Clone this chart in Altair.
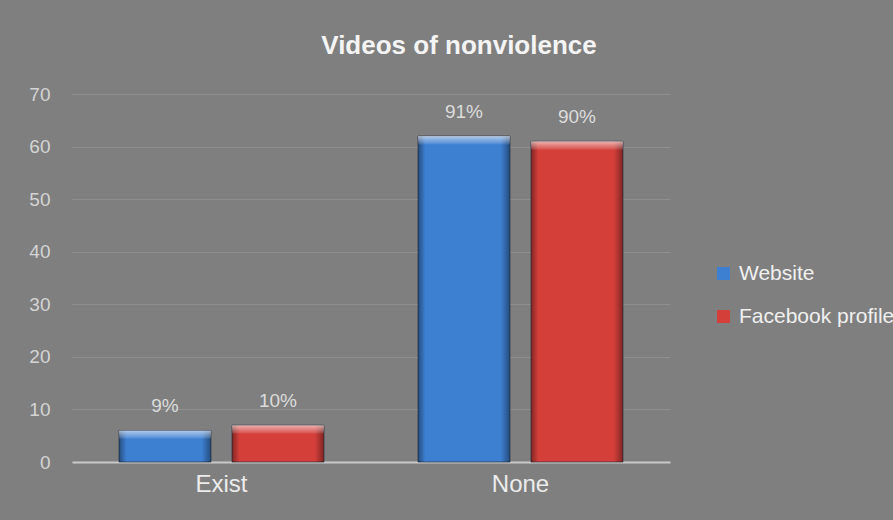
import altair as alt
import pandas as pd

# Categories, series and their values
categories = ["Exist", "None"]
series = ["Website", "Facebook profile"]
website_counts = [6, 62]
facebook_counts = [7, 61]
website_labels = ["9%", "91%"]
facebook_labels = ["10%", "90%"]

rows = []
for cat, v, lab in zip(categories, website_counts, website_labels):
    rows.append({"category": cat, "source": "Website", "count": v, "label": lab})
for cat, v, lab in zip(categories, facebook_counts, facebook_labels):
    rows.append({"category": cat, "source": "Facebook profile", "count": v, "label": lab})
df = pd.DataFrame(rows)

FONT = "Liberation Sans"
BG = "#7f7f7f"

x_enc = alt.X("category:N", sort=categories,
              scale=alt.Scale(paddingInner=0, paddingOuter=0),
              axis=alt.Axis(title=None, labelAngle=0, labelFontSize=24,
                            labelColor="#ececec", labelFont=FONT,
                            ticks=False, labelPadding=10,
                            domainColor="#c9c9c9", domainWidth=2))
xoff_enc = alt.XOffset("source:N", sort=series,
                       scale=alt.Scale(paddingInner=0.186, paddingOuter=0.416))
y_enc = alt.Y("count:Q",
              scale=alt.Scale(domain=[0, 70]),
              axis=alt.Axis(title=None, values=list(range(0, 71, 10)),
                            labelFontSize=19, labelColor="#d4d4d4", labelFont=FONT,
                            labelPadding=22, ticks=False, domain=False,
                            gridColor="#8f8f8f", gridWidth=1))

base = alt.Chart(df).encode(x=x_enc, xOffset=xoff_enc)

bars = base.mark_bar(stroke="#2a3240", strokeWidth=1, strokeOpacity=0.7).encode(
    y=y_enc,
    color=alt.Color("source:N", sort=series,
                    scale=alt.Scale(domain=series, range=["#3d7fd1", "#d43f3a"]),
                    legend=alt.Legend(title=None, orient="none", legendX=641, legendY=169,
                                      symbolType="square", symbolSize=169,
                                      symbolStrokeWidth=0, labelFontSize=21,
                                      labelFont=FONT, labelColor="#f0f0f0",
                                      labelOffset=5, rowPadding=21, padding=0)),
)

# darker side edges for a rounded look
shade = base.mark_bar(fill=alt.Gradient(
    gradient="linear", x1=0, x2=1, y1=0, y2=0,
    stops=[alt.GradientStop(color="rgba(0,0,0,0.4)", offset=0),
           alt.GradientStop(color="rgba(0,0,0,0)", offset=0.08),
           alt.GradientStop(color="rgba(0,0,0,0)", offset=0.9),
           alt.GradientStop(color="rgba(0,0,0,0.4)", offset=1)])).encode(
    y=alt.Y("count:Q"))

# bevelled highlight along the top of each bar
bevel = base.transform_calculate(bev="datum.count - 1.6").mark_bar(
    fill=alt.Gradient(
        gradient="linear", x1=0, x2=0, y1=0, y2=1,
        stops=[alt.GradientStop(color="rgba(255,255,255,0.6)", offset=0),
               alt.GradientStop(color="rgba(255,255,255,0.08)", offset=1)])).encode(
    y=alt.Y("count:Q"), y2="bev:Q")

labels = base.mark_text(baseline="alphabetic", dy=-18, fontSize=19, font=FONT,
                        color="#dcdcdc").encode(
    y=alt.Y("count:Q"), text="label:N")

chart = alt.layer(bars, shade, bevel, labels).properties(
    width=598, height=368,
    title=alt.TitleParams("Videos of nonviolence", fontSize=26, font=FONT,
                          fontWeight="bold", color="#f4f4f4", dx=88,
                          offset=26, anchor="middle"),
    autosize=alt.AutoSizeParams(type="none"),
    padding={"left": 72, "top": 94, "right": 223, "bottom": 58},
    background=BG,
).configure_view(stroke=None)

chart.save("out.html", embed_options={"renderer": "svg", "actions": False})
